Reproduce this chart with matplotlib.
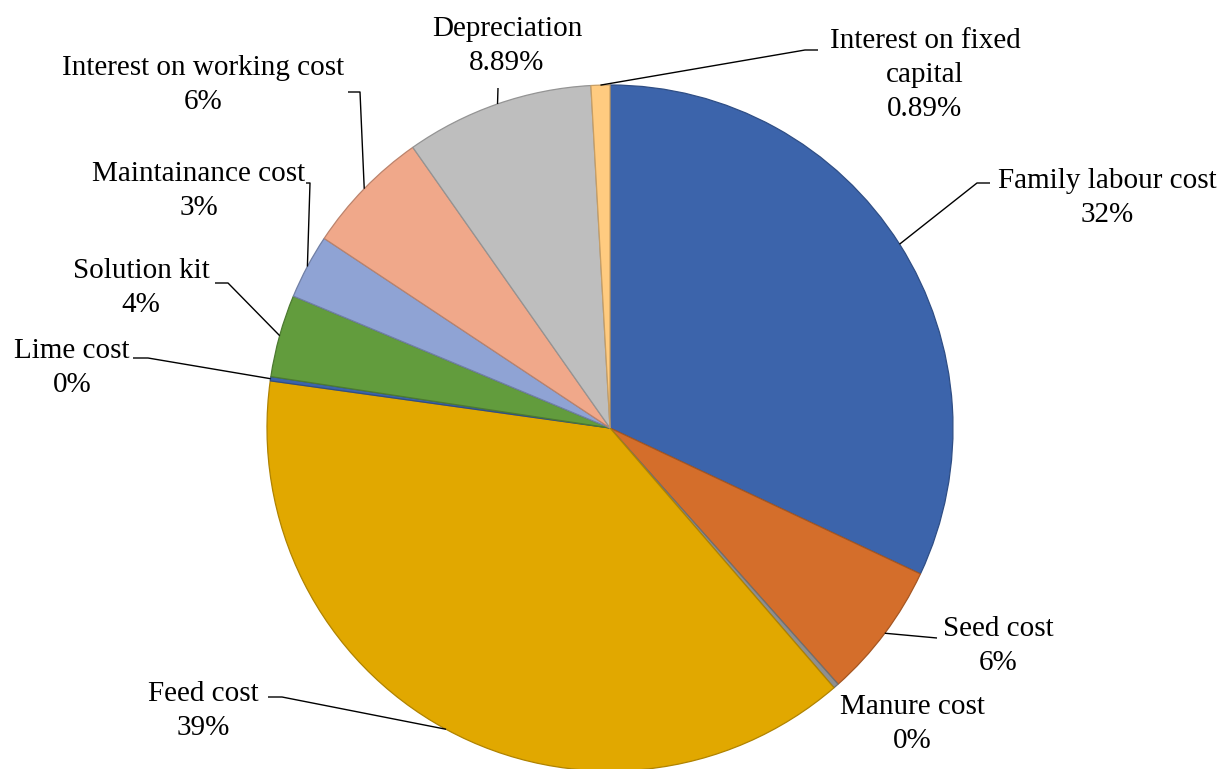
import numpy as np
import matplotlib
matplotlib.use("Agg")
import matplotlib.pyplot as plt
from matplotlib.colors import to_rgb

# Cost components (share of total cost, %)
categories = [
    "Family labour cost", "Seed cost", "Manure cost", "Feed cost", "Lime cost",
    "Solution kit", "Maintainance cost", "Interest on working cost",
    "Depreciation", "Interest on fixed\ncapital",
]
shares = [32.1, 6.45, 0.25, 38.65, 0.2, 3.9, 3.05, 5.95, 8.89, 0.89]
label_decimals = [0, 0, 0, 0, 0, 0, 0, 0, 2, 2]

colors = ["#3C64AB", "#D46E2B", "#8F8F8F", "#E1A800", "#3C64AB",
          "#629C3D", "#8FA3D4", "#F0A88A", "#BEBEBE", "#FFCB80"]

W, H = 1232, 769
fig = plt.figure(figsize=(W / 100, H / 100), dpi=100)
ax = fig.add_axes([0, 0, 1, 1])

cx, cy, R = 610, H - 428, 343


def darker(c, f=0.78):
    r, g, b = to_rgb(c)
    return (r * f, g * f, b * f)


wedges, _ = ax.pie(shares, colors=colors, startangle=90, counterclock=False,
                   center=(cx, cy), radius=R, frame=True,
                   wedgeprops=dict(linewidth=0.9))
for w, c in zip(wedges, colors):
    w.set_edgecolor(darker(c))
ax.set_xlim(0, W)
ax.set_ylim(0, H)
ax.set_aspect("equal")
ax.axis("off")

# label block centres and leader-line bends (x, y from the top edge)
label_pos = [(1107, 198), (998, 646), (912, 724), (203, 711), (72, 368),
             (141, 288), (199, 191), (203, 85), (507, 46), (925, 75)]
leader_bends = [
    [(977, 183), (990, 183)],
    [(937, 638)],
    None,
    [(282, 697), (268, 697)],
    [(148, 358), (133, 358)],
    [(228, 283), (215, 283)],
    [(310, 183), (306, 183)],
    [(360, 92), (348, 92)],
    [(498, 88)],
    [(805, 50), (818, 50)],
]

font = dict(family="Liberation Serif", size=21, color="black")

for w, name, val, dec, pos, bends in zip(wedges, categories, shares,
                                         label_decimals, label_pos, leader_bends):
    text = f"{name}\n{val:.{dec}f}%"
    ax.text(pos[0], H - pos[1], text, ha="center", va="center",
            multialignment="center", linespacing=1.42, **font)
    if bends:
        mid = np.deg2rad((w.theta1 + w.theta2) / 2)
        xs = [cx + R * np.cos(mid)] + [b[0] for b in bends]
        ys = [cy + R * np.sin(mid)] + [H - b[1] for b in bends]
        ax.plot(xs, ys, color="black", linewidth=1.0, solid_capstyle="butt")

fig.savefig("out.png", dpi=100, facecolor="white")
